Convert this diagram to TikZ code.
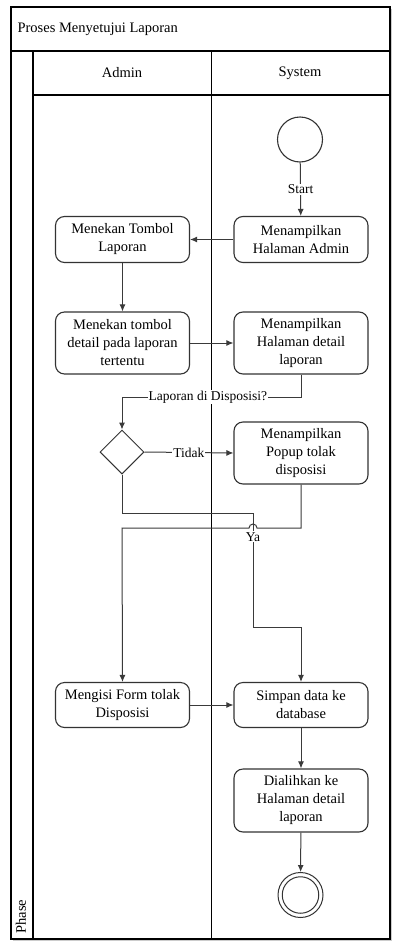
\documentclass[tikz,border=0pt]{standalone}
\usepackage{fontspec}
\setmainfont{Liberation Serif}
\usetikzlibrary{arrows.meta,shapes.geometric}
\definecolor{ink}{HTML}{333333}
\definecolor{wire}{HTML}{3A3A3A}
\begin{document}
\begin{tikzpicture}[x=1pt,y=-1pt,
  lane/.style={draw=black,line width=1.3pt},
  actbox/.style={draw=ink,line width=1.1pt,rounded corners=9pt,fill=white,
    minimum width=134pt,align=center,inner sep=2pt,
    font=\fontsize{14.5}{18}\selectfont},
  flow/.style={draw=wire,line width=1pt,-{Latex[length=7pt,width=6pt]}},
  wireline/.style={draw=wire,line width=1pt},
  lbl/.style={fill=white,inner sep=1pt,font=\fontsize{13.5}{15}\selectfont},
  hdr/.style={font=\fontsize{14.5}{17}\selectfont}]
\useasboundingbox (0,0) rectangle (392,945);

% swimlane frame
\draw[gray!40,line width=1pt] (12.5,940.5) -- (391,940.5) -- (391,8.5);
\draw[lane] (11,7) rectangle (390,939);
\draw[lane] (11,51) -- (390,51);
\draw[lane] (33,51) -- (33,939);
\draw[lane] (211.5,51) -- (211.5,939);
\draw[lane] (33,95) -- (390,95);
\node[hdr,anchor=west] (title) at (14,29) {Proses Menyetujui Laporan};
\node[hdr] (admin) at (122,73) {Admin};
\node[hdr] (system) at (300,73) {System};
\node[hdr,rotate=90,anchor=west] (phase) at (21,937) {Phase};

% activities
\node[circle,draw=ink,line width=1.1pt,fill=white,minimum size=45pt,inner sep=0pt] (start) at (300,139.5) {};
\node[actbox,minimum height=46pt] (showadmin) at (301,239.5) {Menampilkan\\Halaman Admin};
\node[actbox,minimum height=46pt] (tombol) at (122.5,239.5) {Menekan Tombol\\Laporan};
\node[actbox,minimum height=62pt] (detailbtn) at (122.5,343) {Menekan tombol\\detail pada laporan\\tertentu};
\node[actbox,minimum height=62pt] (showdetail) at (301,343) {Menampilkan\\Halaman detail\\laporan};
\node[diamond,draw=ink,line width=1pt,fill=white,minimum width=44pt,minimum height=44pt,inner sep=0pt] (dec) at (122,452) {};
\node[actbox,minimum height=62pt] (popup) at (301,453) {Menampilkan\\Popup tolak\\disposisi};
\node[actbox,minimum height=45pt] (mengisi) at (122.5,705) {Mengisi Form tolak\\Disposisi};
\node[actbox,minimum height=45pt] (simpan) at (301,705) {Simpan data ke\\database};
\node[actbox,minimum height=63pt] (dialihkan) at (301,800.5) {Dialihkan ke\\Halaman detail\\laporan};
\node[circle,draw=ink,line width=1pt,minimum size=45pt,inner sep=0pt] (finish) at (300.5,895) {};
\node[circle,draw=ink,line width=1pt,minimum size=36.5pt,inner sep=0pt] (finishin) at (300.5,895) {};

% routing points
\coordinate (askturn) at (122,397);
\coordinate (yaL) at (122,513);
\coordinate (yaR) at (253,513);
\coordinate (yaLow) at (253,627);
\coordinate (yaEnd) at (301,627);
\coordinate (popTurn) at (301,528);
\coordinate (formTurn) at (122,528);

% connectors
\draw[flow] (start) -- node[lbl,pos=0.5]{Start} (showadmin);
\draw[flow] (showadmin) -- (tombol);
\draw[flow] (tombol) -- (detailbtn);
\draw[flow] (detailbtn) -- (showdetail);
\draw[flow] (showdetail.south) |- node[lbl,pos=0.76]{Laporan di Disposisi?} (askturn) -- (dec.north);
\draw[flow] (dec.east) -- node[lbl,pos=0.5]{Tidak} (popup.west);
\draw[flow] (dec.south) -- (yaL) -- (yaR) -- node[lbl,pos=0.21]{Ya} (yaLow) -- (yaEnd) -- (simpan.north);
\draw[flow] (popup.south) -- (popTurn) -- (257,528)
  arc[start angle=0,end angle=-180,radius=4] -- (formTurn) -- (mengisi.north);
\draw[flow] (mengisi) -- (simpan);
\draw[flow] (simpan) -- (dialihkan);
\draw[flow] (dialihkan) -- (finish);
\end{tikzpicture}
\end{document}
